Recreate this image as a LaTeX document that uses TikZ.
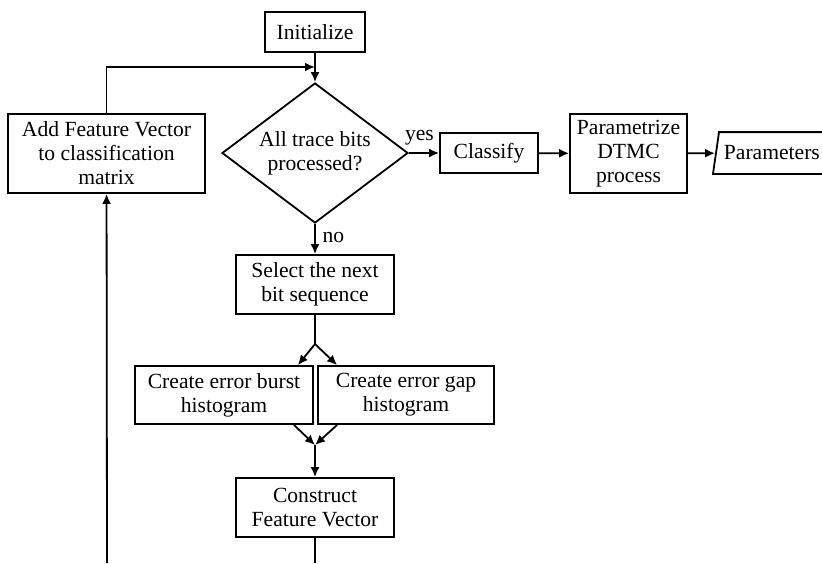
\documentclass[tikz,border=0pt]{standalone}
\usepackage{fontspec}
\setmainfont{Liberation Serif}
\usetikzlibrary{arrows.meta,shapes.geometric}

\begin{document}
\begin{tikzpicture}[x=0.5pt,y=-0.5pt,line width=0.9pt,
  font=\fontsize{10.8}{12}\selectfont,
  >={Latex[length=5pt,width=4.5pt]},
  box/.style={draw, rectangle, align=center, inner sep=1pt}]
\useasboundingbox (0,0) rectangle (822,563);
\node[box, minimum width=50pt, minimum height=20pt] (init) at (315,32) {Initialize};
\node[draw, diamond, aspect=1.33, inner sep=0pt, minimum width=93pt, minimum height=70pt, align=center] (dec) at (315,153) {All trace bits\\processed?};
\node[box, minimum width=98.5pt, minimum height=39.5pt] (add) at (106.5,153.5) {Add Feature Vector\\to classification\\matrix};
\node[box, minimum width=49pt, minimum height=20pt] (cls) at (489,153) {Classify};
\node[box, minimum width=58.5pt, minimum height=39.5pt] (par) at (628.5,153.5) {Parametrize\\DTMC\\process};
\node[inner xsep=4pt, inner ysep=1pt, minimum height=20pt, anchor=west] (prm) at (715,153) {Parameters};
\draw ([xshift=-1pt]prm.south west) -- ([xshift=2pt]prm.north west) -- ([xshift=20pt]prm.north east) -- ([xshift=17pt]prm.south east) -- cycle;
\node[box, minimum width=79pt, minimum height=29.5pt] (sel) at (315,284.5) {Select the next\\bit sequence};
\node[box, minimum width=89pt, minimum height=29pt] (burst) at (224,395) {Create error burst\\histogram};
\node[box, minimum width=88pt, minimum height=29pt] (gap) at (406,395) {Create error gap\\histogram};
\node[box, minimum width=79pt, minimum height=29.5pt] (cons) at (315,507.5) {Construct\\Feature Vector};
\coordinate (join) at (315,67);
\coordinate (split) at (315,344);
\coordinate (merge) at (315,445);
\coordinate (out) at (315,563);
\coordinate (back) at (107,563);
% main flow
\draw[->] (init) -- (dec);
\draw[->] (dec.east) -- node[above, pos=0.35] {yes} (cls);
\draw[->] (cls) -- (par);
\draw[->] (par) -- (prm);
\draw[->] (dec.south) -- node[right, pos=0.45] {no} (sel);
\draw (sel) -- (split);
\draw[->] (split) -- ([xshift=-8pt]burst.north east);
\draw[->] (split) -- ([xshift=10pt]gap.north west);
\draw[->] ([xshift=-10pt]burst.south east) -- (merge);
\draw[->] ([xshift=10pt]gap.south west) -- (merge);
\draw[->] (merge) -- (cons);
\draw (cons) -- (out);
% loop back
\draw[->] (back) -- (add);
\draw[->] (add.north) |- (join);
\end{tikzpicture}
\end{document}
